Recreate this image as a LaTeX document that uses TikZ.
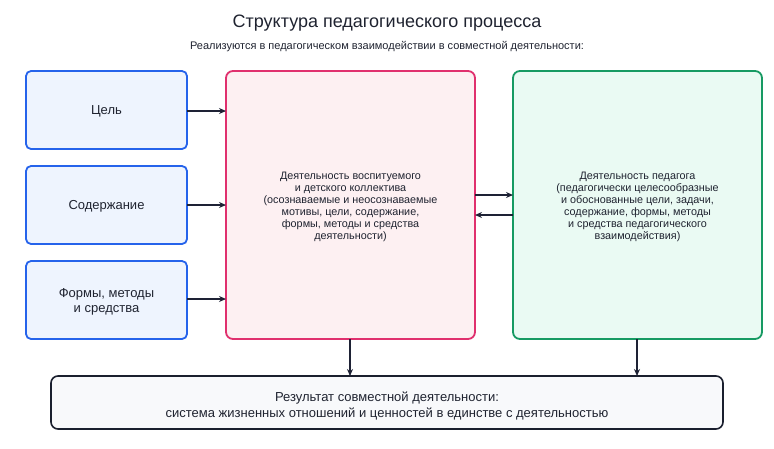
\documentclass[tikz,border=0pt]{standalone}
\usepackage{fontspec}
\setmainfont{Liberation Sans}
\usetikzlibrary{arrows.meta}
\definecolor{bluebd}{HTML}{2563EB}
\definecolor{bluefl}{HTML}{EEF4FE}
\definecolor{pinkbd}{HTML}{E0306E}
\definecolor{pinkfl}{HTML}{FDF0F2}
\definecolor{greenbd}{HTML}{179A63}
\definecolor{greenfl}{HTML}{EAFAF3}
\definecolor{darkbd}{HTML}{1A1F2E}
\definecolor{darkfl}{HTML}{F8F9FB}
\definecolor{arrowc}{HTML}{1E2235}
\definecolor{textc}{HTML}{1F2330}
\begin{document}
\begin{tikzpicture}[x=1pt,y=-1pt,
  every node/.style={text=textc},
  leftbox/.style={draw=bluebd,fill=bluefl,line width=1.8pt,rounded corners=5pt},
  pinkbox/.style={draw=pinkbd,fill=pinkfl,line width=1.8pt,rounded corners=7pt},
  greenbox/.style={draw=greenbd,fill=greenfl,line width=1.8pt,rounded corners=7pt},
  resbox/.style={draw=darkbd,fill=darkfl,line width=1.6pt,rounded corners=7pt},
  conn/.style={draw=arrowc,line width=1.5pt,-{Stealth[length=7pt,width=6pt]}},
  smalltxt/.style={font=\fontsize{10.8}{12.1}\selectfont,align=center},
  midtxt/.style={font=\fontsize{13}{14.8}\selectfont,align=center}]
\useasboundingbox (0,0) rectangle (774,448);
\node[font=\fontsize{18}{21}\selectfont] (title) at (387,23) {Структура педагогического процесса};
\node[font=\fontsize{11}{13}\selectfont] (sub) at (387,46.5) {Реализуются в педагогическом взаимодействии в совместной деятельности:};
% boxes
\draw[leftbox] (26,71) rectangle (187,149);
\node[midtxt] (goal) at (106.5,111.5) {Цель};
\draw[leftbox] (26,166) rectangle (187,244);
\node[midtxt] (cont) at (106.5,206.5) {Содержание};
\draw[leftbox] (26,261) rectangle (187,339);
\node[midtxt] (forms) at (106.5,301.5) {Формы, методы\\и средства};
\draw[pinkbox] (226,71) rectangle (475,339);
\node[smalltxt] (pupil) at (350.5,207) {Деятельность воспитуемого\\и детского коллектива\\(осознаваемые и неосознаваемые\\мотивы, цели, содержание,\\формы, методы и средства\\деятельности)};
\draw[greenbox] (513,71) rectangle (762,339);
\node[smalltxt] (teach) at (637.5,207) {Деятельность педагога\\(педагогически целесообразные\\и обоснованные цели, задачи,\\содержание, формы, методы\\и средства педагогического\\взаимодействия)};
\draw[resbox] (51,376) rectangle (723,429);
\node[font=\fontsize{13}{15.2}\selectfont,align=center] (res) at (387,406) {Результат совместной деятельности:\\система жизненных отношений и ценностей в единстве с деятельностью};
% anchor coordinates on borders
\coordinate (gS) at (187,111); \coordinate (gT) at (226,111);
\coordinate (cS) at (187,205); \coordinate (cT) at (226,205);
\coordinate (fS) at (187,299); \coordinate (fT) at (226,299);
\coordinate (pR1) at (475,195); \coordinate (tL1) at (513,195);
\coordinate (pR2) at (475,215); \coordinate (tL2) at (513,215);
\coordinate (pB) at (350,339); \coordinate (rT1) at (350,376);
\coordinate (tB) at (637,339); \coordinate (rT2) at (637,376);
\draw[conn] (gS) -- (gT);
\draw[conn] (cS) -- (cT);
\draw[conn] (fS) -- (fT);
\draw[conn] (pR1) -- (tL1);
\draw[conn] (tL2) -- (pR2);
\draw[conn] (pB) -- (rT1);
\draw[conn] (tB) -- (rT2);
\end{tikzpicture}
\end{document}
